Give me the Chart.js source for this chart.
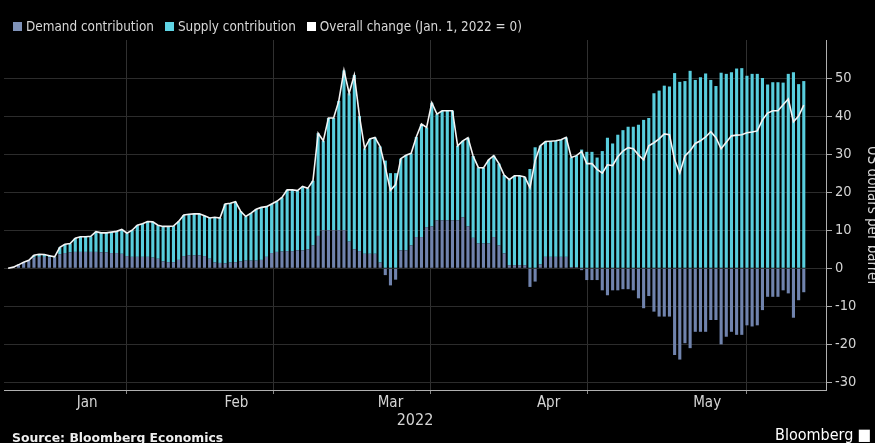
<!DOCTYPE html>
<html><head><meta charset="utf-8">
<script src="https://cdn.jsdelivr.net/npm/chart.js@4.4.1/dist/chart.umd.min.js"></script>
<style>
html,body{margin:0;padding:0;background:#000;overflow:hidden;width:875px;height:443px;}
#wrap{position:absolute;left:0;top:0;width:886px;height:443px;}
.legend{position:absolute;top:19px;left:13px;font:13.4px "DejaVu Sans Condensed","Liberation Sans Narrow","Roboto",sans-serif;color:#d8d8d8;display:flex;white-space:nowrap;}
.item{display:flex;align-items:center;margin-right:11px}
.sw{width:9px;height:9px;margin-right:4px}
.src{position:absolute;left:12px;top:430px;font:bold 12.4px "DejaVu Sans","Roboto",sans-serif;color:#eee;white-space:nowrap}
.brand{position:absolute;left:775px;top:425px;font:16px "DejaVu Sans Condensed","Roboto",sans-serif;color:#fff;white-space:nowrap}
</style></head>
<body>
<div id="wrap"><canvas id="c"></canvas></div>
<div class="legend">
  <div class="item"><span class="sw" style="background:#7f92b8"></span>Demand contribution</div>
  <div class="item"><span class="sw" style="background:#5fd4e4"></span>Supply contribution</div>
  <div class="item"><span class="sw" style="background:#ffffff"></span>Overall change (Jan. 1, 2022 = 0)</div>
</div>
<div class="src">Source: Bloomberg Economics</div>
<div class="brand">Bloomberg ■</div>
<script>
// daily values, Jan 1 2022 .. Jun 4 2022 (US dollars per barrel)
const demand = [
0,0.3,0.8,1.5,2.0,2.8,3.0,3.0,2.9,2.8,
3.7,4.0,4.2,4.3,4.3,4.3,4.3,4.3,4.2,4.2,
4.0,4.0,3.8,3.2,3.0,3.0,3.0,3.0,2.8,2.5,
1.8,1.6,1.6,2.2,3.2,3.4,3.4,3.4,3.2,2.5,
1.5,1.4,1.3,1.5,1.6,1.8,2.0,2.0,2.0,2.2,
3.0,4.0,4.3,4.4,4.5,4.5,4.7,4.7,5.0,6.0,
8.5,10,10,10,10,10,7.0,5.0,4.5,3.8,
3.8,3.8,1.5,-1.8,-4.5,-3.0,4.7,4.7,6.0,8.2,
8.2,10.8,11.0,12.6,12.6,12.6,12.6,12.6,13.4,11.0,
8.0,6.5,6.5,6.5,8.2,6.0,3.9,0.8,0.8,0.8,
0.8,-4.9,-3.5,1.0,3.0,3.0,3.0,3.0,3.0,0.3,
0.3,-0.5,-3.1,-3.1,-3.1,-5.8,-7.1,-5.8,-5.8,-5.5,
-5.5,-5.8,-7.9,-10.5,-7.3,-11.4,-12.7,-12.7,-12.7,-22.8,
-24,-19.7,-21,-16.7,-16.7,-16.7,-13.6,-13.6,-20,-18,
-16.7,-17.5,-17.5,-15,-15.3,-15,-11,-7.5,-7.5,-7.5,
-5.8,-6.6,-13,-8.4,-6.3];
const supply = [
0,0,0.1,0.1,0.1,0.6,0.7,0.6,0.4,0.2,
1.8,2.3,2.3,3.6,4.0,4.0,4.1,5.3,5.1,5.1,
5.5,5.7,6.4,6.0,7.0,8.3,8.7,9.3,9.4,8.8,
9.2,9.4,9.5,10.1,10.8,10.8,10.9,10.9,10.6,10.7,
11.9,11.8,15.6,15.6,15.9,13.2,11.6,12.5,13.5,13.8,
13.2,12.9,13.3,14.2,16.1,16.1,15.7,16.8,16.0,17.0,
27.0,23.5,29.5,29.5,34.0,42.0,39.0,45.8,35.5,27.7,
30.2,30.6,30.5,28.3,25.0,25.0,24.1,25.0,24.2,26.3,
29.7,26.2,32.5,27.9,28.8,28.8,28.8,19.6,20.1,23.3,
21.5,20.0,19.9,22.0,21.4,21.5,20.6,22.5,23.5,23.5,
23.2,26.1,31.8,31.2,30.3,30.4,30.5,30.8,31.4,28.8,
29.3,31.2,30.6,30.6,29.1,30.8,34.3,32.8,35.1,36.3,
37.2,37.2,37.7,39.0,39.5,46.0,46.7,48.0,47.8,51.3,
49.0,49.2,51.9,49.5,50.2,51.2,49.5,47.9,51.4,51.1,
51.5,52.5,52.6,50.6,51.1,51.1,50.0,48.3,48.9,48.9,
48.8,51.1,51.5,48.4,49.2];
const overall = [
0,0.3,0.9,1.6,2.1,3.4,3.7,3.6,3.3,3.0,
5.5,6.3,6.5,7.9,8.3,8.3,8.4,9.6,9.3,9.3,
9.5,9.7,10.2,9.2,10.0,11.3,11.7,12.3,12.2,11.3,
11.0,11.0,11.1,12.3,14.0,14.2,14.3,14.3,13.8,13.2,
13.4,13.2,16.9,17.1,17.5,15.0,13.6,14.5,15.5,16.0,
16.2,16.9,17.6,18.6,20.6,20.6,20.4,21.5,21.0,23.0,
35.5,33.5,39.5,39.5,44.0,52.0,46.0,50.8,40.0,31.5,
34.0,34.4,32.0,26.5,20.5,22.0,28.8,29.7,30.2,34.5,
37.9,37.0,43.5,40.5,41.4,41.4,41.4,32.2,33.5,34.3,
29.5,26.5,26.4,28.5,29.6,27.5,24.5,23.3,24.3,24.3,
24.0,21.2,28.3,32.2,33.3,33.4,33.5,33.8,34.4,29.1,
29.6,30.7,27.5,27.5,26.0,25.0,27.2,27.0,29.3,30.8,
31.7,31.4,29.8,28.5,32.2,33.0,34.0,35.3,35.1,28.5,
25.0,29.5,30.9,32.8,33.5,34.5,35.9,34.3,31.4,33.1,
34.8,35.0,35.1,35.6,35.8,36.1,39.0,40.8,41.4,41.4,
43.0,44.5,38.5,40.0,42.9];

// axis tick definitions (day index from Jan 1)
const monthBoundaries = [30.5, 58.5, 89.5, 119.5, 150.5];
const monthLabelPos = [15.3, 44.2, 74, 104.6, 135.3];
const monthLabels = ['Jan', 'Feb', 'Mar', 'Apr', 'May'];
const yTicks = [-30, -20, -10, 0, 10, 20, 30, 40, 50];

const FONT = '"DejaVu Sans Condensed","Liberation Sans Narrow","Roboto",sans-serif';
const pts = arr => arr.map((v, i) => ({x: i, y: v}));
const isBoundary = v => monthBoundaries.includes(v);

new Chart(document.getElementById('c'), {
  data: {
    datasets: [
      {type: 'line', label: 'Overall change', data: pts(overall), borderColor: '#f4f4f4',
       borderWidth: 1.6, pointRadius: 0, tension: 0, stack: 'line', order: 0, yAxisID: 'y'},
      {type: 'bar', label: 'Demand contribution', data: pts(demand), backgroundColor: '#7083ad',
       stack: 'bars', order: 1, categoryPercentage: 1, barPercentage: 0.6},
      {type: 'bar', label: 'Supply contribution', data: pts(supply), backgroundColor: '#58cddd',
       stack: 'bars', order: 1, categoryPercentage: 1, barPercentage: 0.6}
    ]
  },
  options: {
    responsive: true, maintainAspectRatio: false, animation: false,
    layout: {padding: {top: 40, left: 4, right: 0, bottom: 0}},
    plugins: {legend: {display: false}, tooltip: {enabled: false}},
    scales: {
      x: {
        type: 'linear', stacked: true, offset: false, min: -0.8, max: 158.3,
        afterBuildTicks: s => { s.ticks = monthBoundaries.concat(monthLabelPos).sort((a,b)=>a-b).map(v => ({value: v})); },
        afterFit: s => { s.height = 53; },
        ticks: {
          autoSkip: false, maxRotation: 0, padding: 0, color: '#d4d4d4', font: {family: FONT, size: 15},
          callback: v => { const i = monthLabelPos.indexOf(v); return i >= 0 ? monthLabels[i] : ''; }
        },
        grid: {
          color: c => (c.tick && isBoundary(c.tick.value)) ? '#303030' : 'rgba(0,0,0,0)',
          tickColor: c => (c.tick && isBoundary(c.tick.value)) ? '#888' : 'rgba(0,0,0,0)',
          tickLength: 4, lineWidth: 1
        },
        border: {display: true, color: '#b0b0b0', width: 1},
        title: {display: true, text: '2022', color: '#d4d4d4', font: {family: FONT, size: 16}, padding: {top: 0, bottom: 13}}
      },
      y: {
        position: 'right', stacked: true, min: -32, max: 60,
        afterBuildTicks: s => { s.ticks = yTicks.map(v => ({value: v})); },
        afterFit: s => { s.width = 60; },
        ticks: {padding: 3, color: '#d4d4d4', font: {family: FONT, size: 14.5}},
        grid: {color: '#2c2c2c', tickColor: '#aaa', tickLength: 6, lineWidth: 1},
        border: {display: true, color: '#b0b0b0', width: 1},
        title: {display: true, text: 'US dollars per barrel', color: '#d4d4d4', font: {family: FONT, size: 15}, padding: {top: 5, bottom: 0}}
      }
    }
  }
});
</script>
</body></html>
